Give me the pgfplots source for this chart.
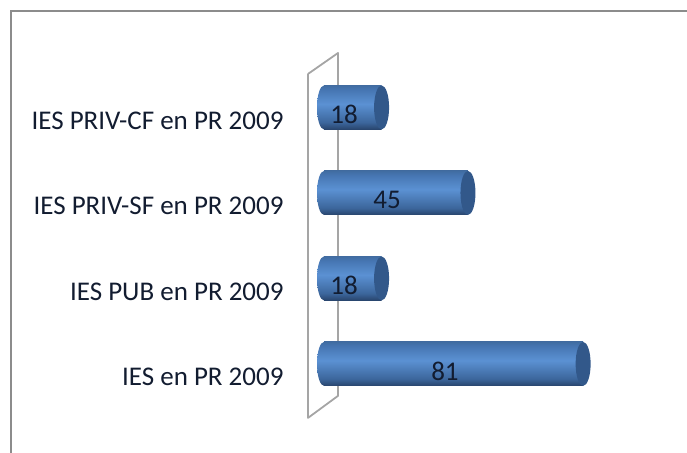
\documentclass[border=0pt]{standalone}
\usepackage{fontspec}
\setmainfont{Carlito}
\usepackage{pgfplots}
\pgfplotsset{compat=1.18}
\definecolor{wallgray}{RGB}{165,165,165}
\definecolor{framegray}{RGB}{140,140,140}
\definecolor{capblue}{RGB}{50,88,138}
\definecolor{labelink}{RGB}{18,28,48}
% body of the cylinder, dark at the bottom
\pgfdeclareverticalshading{cyl}{100bp}{
  rgb(0bp)=(0.157,0.267,0.424);
  rgb(25bp)=(0.157,0.267,0.424);
  rgb(33bp)=(0.235,0.400,0.610);
  rgb(54bp)=(0.357,0.569,0.827);
  rgb(70bp)=(0.275,0.463,0.700);
  rgb(75bp)=(0.255,0.425,0.635);
  rgb(100bp)=(0.255,0.425,0.635)}
\pgfdeclareplotmark{capleft}{%
  \pgfpathellipse{\pgfpointorigin}{\pgfqpoint{7pt}{0pt}}{\pgfqpoint{0pt}{22pt}}%
  \pgfshadepath{cyl}{0}\pgfusepath{discard}}
\pgfdeclareplotmark{capright}{%
  \pgfsetfillcolor{capblue}%
  \pgfpathellipse{\pgfpointorigin}{\pgfqpoint{7.5pt}{0pt}}{\pgfqpoint{0pt}{22pt}}%
  \pgfusepath{fill}}
\pgfplotsset{cylbar/.style={xbar, bar width=44pt, bar shift=0pt, draw=none, shade, shading=cyl, forget plot}}

\begin{document}
\begin{tikzpicture}
\begin{axis}[
    scale only axis,
    width=687pt, height=453pt,
    xmin=-101.25, xmax=113.44,
    ymin=-1.041, ymax=4.257,
    axis line style={draw=none},
    xtick=\empty,
    ytick={0,1,2,3},
    yticklabels={IES en PR 2009,IES PUB en PR 2009,IES PRIV-SF en PR 2009,IES PRIV-CF en PR 2009},
    major tick length=0pt,
    y tick label style={anchor=east, xshift=287pt, yshift=-13pt, font=\fontsize{27}{28}\selectfont, text=labelink},
]
    % outer frame
    \addplot[framegray, line width=2.5pt, forget plot] coordinates {(-97.9,-1.041) (-97.9,4.129) (113.44,4.129)};
    % wall behind the bars
    \addplot[wallgray, line width=1.8pt, line join=round, forget plot] coordinates {
        (-5,3.392) (4.375,3.637) (4.375,-0.374) (-5,-0.632) (-5,3.392)};
    % left ends
    \addplot[only marks, mark=capleft, forget plot] coordinates {(0,0) (0,1) (0,2) (0,3)};
    % bars, one plot each so the shading fits each bar
    \addplot[cylbar] coordinates {(81,0)};
    \addplot[cylbar] coordinates {(18,1)};
    \addplot[cylbar] coordinates {(45,2)};
    \addplot[cylbar] coordinates {(18,3)};
    % right ends
    \addplot[only marks, mark=capright, forget plot] coordinates {(81,0) (18,1) (45,2) (18,3)};
    % value labels
    \addplot[draw=none, mark=none, point meta=explicit symbolic, nodes near coords,
        every node near coord/.style={anchor=center, yshift=-7pt, text=labelink, font=\fontsize{27}{28}\selectfont},
        forget plot] coordinates {
        (37.8,0)[81] (6.25,1)[18] (19.7,2)[45] (6.25,3)[18]};
\end{axis}
\end{tikzpicture}
\end{document}
